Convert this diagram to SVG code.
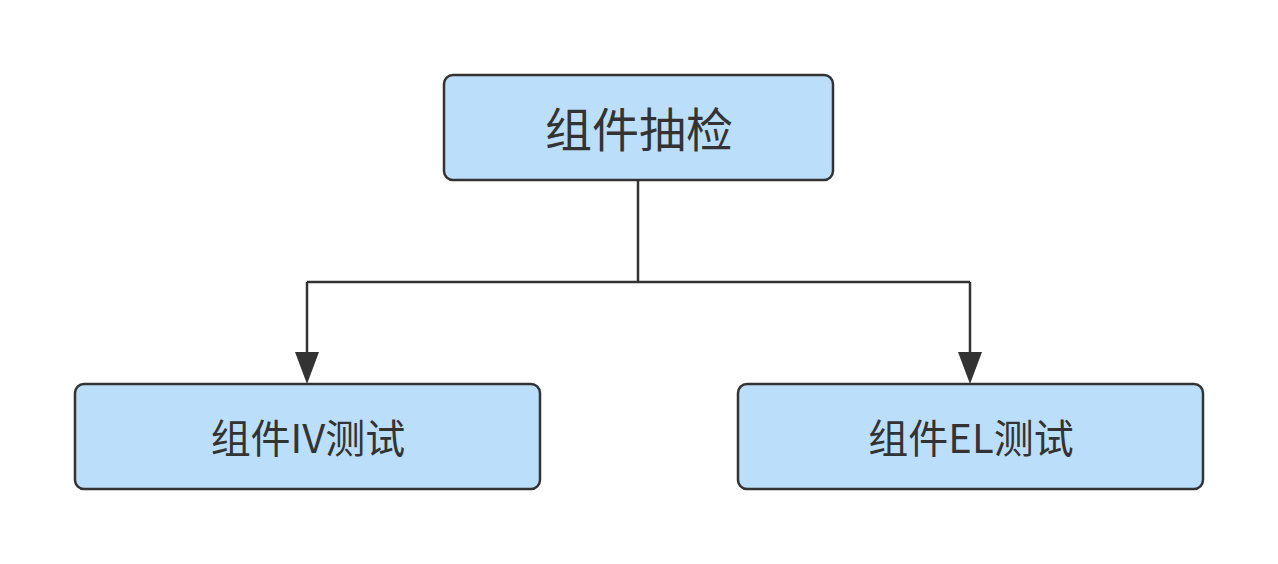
<svg xmlns="http://www.w3.org/2000/svg" width="1278" height="564" viewBox="0 0 1278 564">
<style>
.box{fill:#bbdefb;stroke:#333333;stroke-width:2.5}
.t{font-family:"Noto Sans CJK SC","Liberation Sans",sans-serif;fill:#333333;text-anchor:middle;dominant-baseline:central}
.c{fill:none;stroke:#333333;stroke-width:2.5}
.ah{fill:#333333}
</style>
<rect width="1278" height="564" fill="#ffffff"/>
<g id="connectors">
<path class="c" d="M638,181 V282 M307,282 H970"/>
<path class="c" d="M307,282 V360"/>
<path class="c" d="M970,282 V360"/>
<path class="ah" d="M295,352 L319,352 L307,384 Z"/>
<path class="ah" d="M958,352 L982,352 L970,384 Z"/>
</g>
<g id="node-top">
<rect class="box" x="444" y="75" width="389" height="105" rx="9"/>
<text class="t" x="639" y="126" font-size="47">组件抽检</text>
</g>
<g id="node-iv">
<rect class="box" x="75" y="384" width="465" height="105" rx="9"/>
<text class="t" x="308" y="436" font-size="40">组件IV测试</text>
</g>
<g id="node-el">
<rect class="box" x="738" y="384" width="465" height="105" rx="9"/>
<text class="t" x="971" y="436" font-size="40">组件EL测试</text>
</g>
</svg>
